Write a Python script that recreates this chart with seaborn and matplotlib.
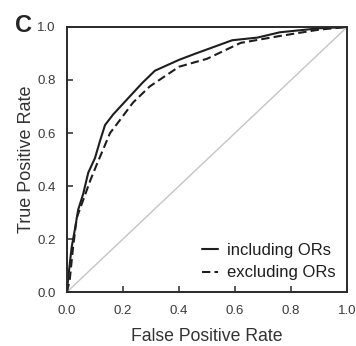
import matplotlib
matplotlib.use("Agg")
import matplotlib.pyplot as plt
import seaborn as sns
import pandas as pd

# Data
fpr_incl = [0.0, 0.005, 0.017, 0.028, 0.04, 0.058, 0.076, 0.10, 0.118, 0.136, 0.165, 0.213,
            0.27, 0.314, 0.40, 0.46, 0.59, 0.68, 0.76, 0.90, 1.0]
tpr_incl = [0.0, 0.058, 0.17, 0.234, 0.31, 0.37, 0.45, 0.505, 0.57, 0.63, 0.67, 0.725,
            0.79, 0.835, 0.876, 0.90, 0.95, 0.96, 0.98, 0.995, 1.0]
fpr_excl = [0.0, 0.01, 0.022, 0.035, 0.058, 0.083, 0.106, 0.13, 0.154, 0.19, 0.236,
            0.296, 0.40, 0.50, 0.62, 0.76, 0.90, 1.0]
tpr_excl = [0.0, 0.045, 0.17, 0.28, 0.347, 0.42, 0.48, 0.54, 0.60, 0.65, 0.715,
            0.776, 0.85, 0.88, 0.94, 0.966, 0.99, 1.0]
labels = ["including ORs", "excluding ORs"]
ticks = [0.0, 0.2, 0.4, 0.6, 0.8, 1.0]

df = pd.concat([
    pd.DataFrame({"fpr": fpr_incl, "tpr": tpr_incl, "model": labels[0]}),
    pd.DataFrame({"fpr": fpr_excl, "tpr": tpr_excl, "model": labels[1]}),
])

sns.set_style("white")
plt.rcParams['font.family'] = ['Liberation Sans', 'DejaVu Sans']

fig = plt.figure(figsize=(3.56, 3.46), dpi=100)
ax = fig.add_axes([0.188, 0.156, 0.787, 0.766])

ax.plot([0, 1], [0, 1], color="#c4c4c4", lw=1.0, zorder=1)
sns.lineplot(data=df, x="fpr", y="tpr", hue="model", style="model",
             palette={labels[0]: "#1e1e1e", labels[1]: "#1e1e1e"},
             dashes={labels[0]: "", labels[1]: (4, 2)},
             lw=1.5, sort=False, estimator=None, ax=ax, legend=True)

ax.set_xlim(0, 1)
ax.set_ylim(0, 1)
ax.set_xticks(ticks)
ax.set_yticks(ticks)
ax.set_xticklabels([f"{t:.1f}" for t in ticks])
ax.set_yticklabels([f"{t:.1f}" for t in ticks])
ax.tick_params(direction="in", length=4, width=1.2, colors="#3a3a3a", labelsize=9.5,
               bottom=True, left=True, top=False, right=False)
ax.tick_params(axis="x", pad=9)
ax.tick_params(axis="y", pad=8)
for s in ax.spines.values():
    s.set_color("#2a2a2a")
    s.set_linewidth(1.4)

ax.set_xlabel("False Positive Rate", fontsize=12.7, color="#333333", labelpad=8)
ax.set_ylabel("True Positive Rate", fontsize=13, color="#333333", labelpad=2)

leg = ax.legend(loc="lower right", frameon=False, fontsize=12, handlelength=1.0,
                handletextpad=0.5, labelspacing=0.45, borderaxespad=0.3)
for t in leg.get_texts():
    t.set_color("#1e1e1e")

fig.text(0.042, 0.925, "C", fontsize=17, fontweight="bold", va="center", ha="left")

fig.savefig("out.png", dpi=100)
